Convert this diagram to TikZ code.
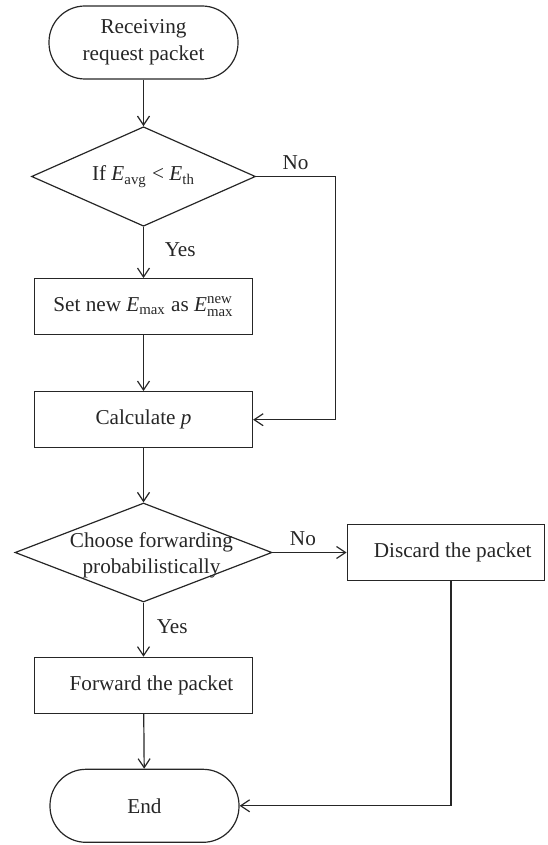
\documentclass[tikz,border=0pt]{standalone}
\usepackage{amsmath}
\usepackage{fontspec}
\setmainfont{Liberation Serif}
\usetikzlibrary{shapes.geometric, arrows.meta}

\newcommand{\Esub}[1]{\textit{E}$_{\text{#1}}$}

\begin{document}
\begin{tikzpicture}[x=0.5pt, y=-0.5pt, color=black!85, line width=0.6pt, font=\fontsize{10.6}{13.3}\selectfont, term style/.style={rectangle, draw, rounded corners=18pt, minimum width=94.5pt, minimum height=36.5pt, align=center}, box style/.style={rectangle, draw, minimum width=109pt, minimum height=28pt, align=center}, decision/.style={diamond, draw, inner sep=0pt}, flow/.style={-{Straight Barb[length=4.5pt, width=6pt]}}]
	\useasboundingbox (0, 0) rectangle (547, 845);
	\node[term style] (Start) at (143.5, 42.5) {Receiving\\request packet};
	\node[decision, minimum width=112pt, minimum height=49.75pt, label={center:If \Esub{avg} < \Esub{th}}] (D1) at (143.5, 176.5) {};
	\node[box style] (Set) at (143.5, 306.7) {Set new \Esub{max} as \textit{E}$^{\text{new}}_{\text{max}}$};
	\node[box style] (Calc) at (143.5, 419.7) {Calculate \textit{p}};
	\node[decision, minimum width=128.5pt, minimum height=49.5pt, label={[align=center, xshift=4pt, yshift=-1.5pt]center:Choose forwarding\\probabilistically}] (D2) at (143.5, 552.5) {};
	\node[box style, minimum width=98.5pt] (Discard) at (445.7, 552.5) {\hspace*{7pt}Discard the packet};
	\node[box style] (Forward) at (143.5, 685.3) {\hspace*{8pt}Forward the packet};
	\node[term style] (End) at (144.5, 805.8) {End};
	\draw[flow] (Start) -- (D1);
	\draw[flow] (D1) -- node[right, xshift=7pt, pos=0.45] {Yes} (Set);
	\draw[flow] (D1.east) -- node[above] {No} ++(79, 0) |- (Calc.east);
	\draw[flow] (Set) -- (Calc);
	\draw[flow] (Calc) -- (D2);
	\draw[flow] (D2.east) -- node[above, pos=0.41] {No} (Discard.west);
	\draw[flow] (D2) -- node[right, xshift=3pt, pos=0.45] {Yes} (Forward);
	\draw[flow] (Forward) -- (End);
	\draw[flow] ([xshift=2.65pt]Discard.south) |- (End.east);
\end{tikzpicture}
\end{document}
